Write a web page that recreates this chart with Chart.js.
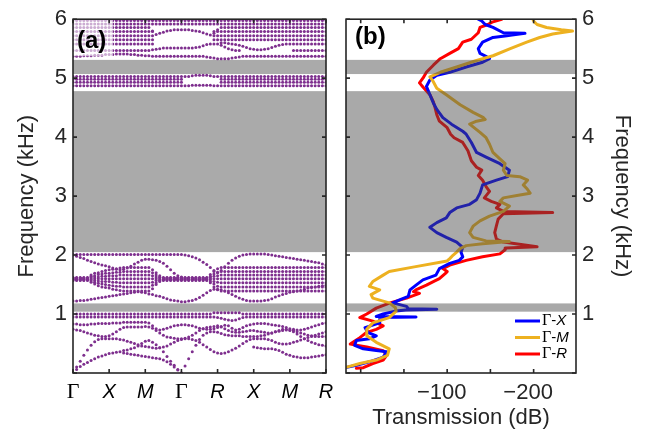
<!DOCTYPE html>
<html lang="en">
<head>
<meta charset="UTF-8">
<title>Band structure and transmission</title>
<script src="https://cdn.jsdelivr.net/npm/chart.js@4.4.0/dist/chart.umd.min.js"></script>
<style>
  html, body { margin: 0; padding: 0; background: #fff; }
  #wrap { position: relative; width: 647px; height: 437px; overflow: hidden; }
  #bandCanvas { position: absolute; left: 0; top: 0; }
  #transCanvas { position: absolute; left: 340px; top: 0; }
</style>
</head>
<body>
<div id="wrap">
  <canvas id="bandCanvas" width="340" height="437"></canvas>
  <canvas id="transCanvas" width="307" height="437"></canvas>
</div>
<script>
// ---------- panel (a): band structure ----------
const kGrid = [0,0.1,0.2,0.3,0.4,0.5,0.6,0.7,0.8,0.9,
  1,1.1,1.2,1.3,1.4,1.5,1.6,1.7,1.8,1.9,
  2,2.1,2.2,2.3,2.4,2.5,2.6,2.7,2.8,2.9,
  3,3.1,3.2,3.3,3.4,3.5,3.6,3.7,3.8,3.9,
  4,4.1,4.2,4.3,4.4,4.5,4.6,4.7,4.8,4.9,
  5,5.1,5.2,5.3,5.4,5.5,5.6,5.7,5.8,5.9,
  6,6.1,6.2,6.3,6.4,6.5,6.6,6.7,6.8,6.9,
  7];
const kTicks = [0,1,2,3,4,5,6,7];
const kLabels = ['Γ','X','M','Γ','R','X','M','R'];
const freqTicks = [0,1,2,3,4,5,6];
// band gaps (kHz)
const gapLow  = [1.04, 2.05, 5.07];
const gapHigh = [1.18, 4.78, 5.31];

// bands below 1 kHz
const bandD1 = [1.00,1.00,1.00,1.00,1.00,1.00,1.00,1.00,1.00,1.00,
  1.00,1.00,1.00,1.00,1.00,1.00,1.00,1.00,1.00,1.00,
  1.00,1.00,1.00,1.00,1.00,1.00,1.00,1.00,1.00,1.00,
  1.00,1.00,1.00,1.00,1.00,1.00,1.00,1.00,1.00,1.02,
  1.02,1.02,1.02,1.02,1.02,1.02,1.02,1.00,1.00,1.00,
  1.00,1.00,1.00,1.00,1.00,1.00,1.00,1.00,1.00,1.00,
  1.00,1.00,1.00,1.00,1.00,1.00,1.00,1.00,1.00,1.00,
  1.00];
const bandD2 = [0.95,0.95,0.95,0.95,0.95,0.95,0.95,0.95,0.95,0.95,
  0.95,0.95,0.95,0.95,0.95,0.95,0.95,0.95,0.95,0.95,
  0.95,0.95,0.95,0.95,0.95,0.95,0.95,0.95,0.95,0.95,
  0.95,0.95,0.95,0.95,0.95,0.95,0.95,0.95,0.95,0.95,
  0.94,0.93,0.91,0.90,0.89,0.90,0.92,0.94,0.95,0.95,
  0.95,0.95,0.95,0.95,0.95,0.95,0.95,0.95,0.95,0.95,
  0.95,0.95,0.95,0.95,0.95,0.95,0.95,0.95,0.95,0.95,
  0.95];
const bandD3 = [0.83,0.83,0.82,0.82,0.82,0.83,0.83,0.84,0.84,0.84,
  0.84,0.85,0.85,0.85,0.86,0.86,0.86,0.86,0.86,0.86,
  0.86,0.85,0.80,0.75,0.73,0.74,0.76,0.78,0.80,0.81,
  0.82,0.82,0.81,0.80,0.78,0.76,0.75,0.74,0.74,0.75,
  0.77,0.79,0.81,0.80,0.76,0.73,0.74,0.77,0.80,0.82,
  0.83,0.84,0.84,0.84,0.83,0.82,0.81,0.80,0.79,0.77,
  0.75,0.74,0.73,0.73,0.74,0.76,0.78,0.80,0.82,0.84,
  0.85];
const bandD4 = [0.74,0.73,0.72,0.70,0.68,0.66,0.64,0.63,0.62,0.62,
  0.63,0.66,0.70,0.74,0.77,0.78,0.78,0.78,0.78,0.78,
  0.79,0.78,0.76,0.72,0.68,0.64,0.61,0.60,0.59,0.58,
  0.58,0.59,0.61,0.64,0.68,0.72,0.75,0.77,0.78,0.79,
  0.80,0.78,0.75,0.72,0.70,0.69,0.69,0.70,0.71,0.72,
  0.72,0.71,0.70,0.69,0.68,0.68,0.70,0.72,0.74,0.74,
  0.72,0.70,0.66,0.62,0.58,0.55,0.52,0.50,0.48,0.47,
  0.46];
const bandD5 = [0.00,0.10,0.20,0.30,0.39,0.47,0.53,0.57,0.58,0.58,
  0.58,0.58,0.58,0.57,0.56,0.54,0.52,0.50,0.48,0.46,
  0.45,0.44,0.43,0.42,0.43,0.44,0.46,0.49,0.52,0.55,
  0.57,0.58,0.58,0.57,0.55,0.52,0.48,0.44,0.40,0.36,
  0.34,0.33,0.34,0.36,0.39,0.42,0.46,0.50,0.54,0.57,
  0.58,0.58,0.58,0.58,0.57,0.55,0.52,0.50,0.49,0.49,
  0.50,0.52,0.54,0.56,0.58,0.60,0.62,0.64,0.66,0.68,
  0.70];
const bandD6 = [0.00,0.06,0.11,0.15,0.18,0.21,0.24,0.27,0.29,0.31,
  0.33,0.34,0.35,0.36,0.38,0.39,0.41,0.43,0.46,0.50,
  0.54,0.55,0.52,0.48,0.43,0.36,0.28,0.20,0.13,0.06,
  0.00,0.12,0.24,0.36,0.47,0.57,0.64,0.68,0.70,0.70,
  0.69,0.67,0.65,0.64,0.63,0.63,0.63,0.62,0.62,0.62,
  0.62,0.62,0.63,0.64,0.66,0.68,0.70,0.71,0.72,0.73,
  0.73,0.72,0.70,0.68,0.66,0.64,0.63,0.62,0.62,0.62,
  0.62];
const bandD7 = [null,null,null,null,null,null,null,null,null,null,
  null,null,null,null,0.34,0.33,0.32,0.31,0.30,0.29,
  0.28,0.27,0.26,0.25,0.24,0.22,0.19,0.15,0.10,0.05,
  0.00,null,null,null,null,null,null,null,null,null,
  null,null,null,null,null,null,null,null,null,null,
  0.44,0.43,0.42,0.41,0.41,0.41,0.40,0.38,0.35,0.32,
  0.30,0.28,0.27,0.26,0.26,0.26,0.27,0.28,0.29,0.30,
  0.31];

// bands between 1.2 and 2 kHz
const bandE1 = [2.01,2.01,2.01,2.01,2.01,2.01,2.01,2.01,2.01,2.01,
  2.01,2.01,2.01,2.01,2.01,2.01,2.01,2.01,2.01,2.01,
  2.01,2.01,2.01,2.01,2.01,2.01,2.01,2.01,2.01,2.01,
  2.01,2.00,1.99,1.97,1.95,1.92,1.88,1.84,1.79,1.74,
  1.70,1.74,1.80,1.86,1.91,1.95,1.98,2.00,2.01,2.02,
  2.02,2.02,2.02,2.02,2.01,2.00,1.99,1.98,1.97,1.96,
  1.95,1.94,1.93,1.92,1.91,1.90,1.89,1.88,1.87,1.85,
  1.83];
const bandE2 = [2.00,1.98,1.96,1.94,1.91,1.89,1.87,1.85,1.83,1.82,
  1.80,1.78,1.76,1.75,1.76,1.78,1.81,1.85,1.88,1.91,
  1.93,1.93,1.92,1.91,1.89,1.86,1.81,1.75,1.69,1.65,
  1.63,null,null,null,null,null,null,null,null,null,
  null,null,null,null,null,null,null,null,null,null,
  null,null,null,null,null,null,null,null,null,null,
  null,null,null,null,null,null,null,null,null,null,
  null];
const bandK1 = [1.62,1.62,1.62,1.62,1.62,1.66,1.69,1.70,1.72,1.74,
  1.75,1.76,1.77,1.78,1.79,1.79,1.79,1.79,1.79,1.79,
  1.79,1.79,1.75,1.70,1.65,1.62,1.62,1.62,1.62,1.62,
  1.62,1.62,1.62,1.62,1.62,1.62,1.62,1.62,1.67,1.72,
  1.77,1.79,1.79,1.79,1.79,1.79,1.79,1.79,1.79,1.79,
  1.79,1.79,1.79,1.79,1.79,1.79,1.79,1.79,1.79,1.79,
  1.79,1.79,1.79,1.79,1.79,1.79,1.79,1.79,1.79,1.79,
  1.79];
const bandK2 = [1.61,1.61,1.61,1.61,1.61,1.64,1.65,1.67,1.68,1.69,
  1.69,1.70,1.71,1.71,1.72,1.72,1.72,1.72,1.72,1.72,
  1.72,1.72,1.70,1.66,1.63,1.61,1.61,1.61,1.61,1.61,
  1.61,1.61,1.61,1.61,1.61,1.61,1.61,1.61,1.64,1.68,
  1.71,1.72,1.72,1.72,1.72,1.72,1.72,1.72,1.72,1.72,
  1.72,1.72,1.72,1.72,1.72,1.72,1.72,1.72,1.72,1.72,
  1.72,1.72,1.72,1.72,1.72,1.72,1.72,1.72,1.72,1.72,
  1.72];
const bandK3 = [1.61,1.61,1.61,1.61,1.61,1.62,1.63,1.63,1.64,1.64,
  1.65,1.65,1.65,1.66,1.66,1.66,1.66,1.66,1.66,1.66,
  1.66,1.66,1.65,1.63,1.62,1.61,1.61,1.61,1.61,1.61,
  1.61,1.61,1.61,1.61,1.61,1.61,1.61,1.61,1.62,1.64,
  1.65,1.66,1.66,1.66,1.66,1.66,1.66,1.66,1.66,1.66,
  1.66,1.66,1.66,1.66,1.66,1.66,1.66,1.66,1.66,1.66,
  1.66,1.66,1.66,1.66,1.66,1.66,1.66,1.66,1.66,1.66,
  1.66];
const bandK4 = [1.60,1.60,1.60,1.60,1.60,1.60,1.60,1.60,1.60,1.60,
  1.60,1.60,1.60,1.60,1.60,1.60,1.60,1.60,1.60,1.60,
  1.60,1.60,1.60,1.60,1.60,1.60,1.60,1.60,1.60,1.60,
  1.60,1.60,1.60,1.60,1.60,1.60,1.60,1.60,1.60,1.60,
  1.60,1.60,1.60,1.60,1.60,1.60,1.60,1.60,1.60,1.60,
  1.60,1.60,1.60,1.60,1.60,1.60,1.60,1.60,1.60,1.60,
  1.60,1.60,1.60,1.60,1.60,1.60,1.60,1.60,1.60,1.60,
  1.60];
const bandK5 = [1.59,1.59,1.59,1.59,1.59,1.58,1.57,1.56,1.55,1.55,
  1.55,1.54,1.54,1.53,1.53,1.53,1.53,1.53,1.53,1.53,
  1.53,1.53,1.54,1.57,1.58,1.59,1.59,1.59,1.59,1.59,
  1.59,1.59,1.59,1.59,1.59,1.59,1.59,1.59,1.58,1.55,
  1.54,1.53,1.53,1.53,1.53,1.53,1.53,1.53,1.53,1.53,
  1.53,1.53,1.53,1.53,1.53,1.53,1.53,1.53,1.53,1.53,
  1.53,1.53,1.53,1.53,1.53,1.53,1.53,1.53,1.53,1.53,
  1.53];
const bandK6 = [1.58,1.58,1.58,1.58,1.58,1.56,1.54,1.52,1.51,1.50,
  1.49,1.48,1.47,1.47,1.46,1.46,1.46,1.46,1.46,1.46,
  1.46,1.46,1.49,1.53,1.57,1.58,1.58,1.58,1.58,1.58,
  1.58,1.58,1.58,1.58,1.58,1.58,1.58,1.58,1.55,1.51,
  1.47,1.46,1.46,1.46,1.46,1.46,1.46,1.46,1.46,1.46,
  1.46,1.46,1.46,1.46,1.46,1.46,1.46,1.46,1.46,1.46,
  1.46,1.46,1.46,1.46,1.46,1.46,1.46,1.46,1.46,1.46,
  1.46];
const bandK7 = [1.57,1.57,1.57,1.57,1.57,1.54,1.51,1.48,1.46,1.45,
  1.44,1.42,1.41,1.40,1.39,1.39,1.39,1.39,1.39,1.39,
  1.39,1.39,1.43,1.50,1.55,1.57,1.57,1.57,1.57,1.57,
  1.57,1.57,1.57,1.57,1.57,1.57,1.57,1.57,1.53,1.46,
  1.41,1.39,1.39,1.39,1.39,1.39,1.39,1.39,1.39,1.39,
  1.39,1.39,1.39,1.39,1.39,1.39,1.39,1.39,1.39,1.39,
  1.39,1.39,1.39,1.39,1.39,1.39,1.39,1.39,1.39,1.39,
  1.39];
const bandF1 = [1.22,1.22,1.23,1.23,1.24,1.25,1.26,1.27,1.28,1.29,
  1.30,1.31,1.32,1.33,1.34,1.35,1.36,1.37,1.38,1.37,
  1.36,1.34,1.33,1.31,1.30,1.28,1.26,1.24,1.23,1.22,
  1.21,1.21,1.22,1.23,1.25,1.28,1.32,1.36,1.40,1.42,
  1.42,1.41,1.39,1.36,1.33,1.30,1.27,1.25,1.23,1.22,
  1.22,1.22,1.22,1.23,1.24,1.26,1.29,1.31,1.33,1.35,
  1.37,1.38,1.39,1.40,1.42,1.44,1.45,1.46,1.47,1.48,
  1.49];

// bands between 4.8 and 5.1 kHz
const bandG1 = [5.03,5.03,5.03,5.03,5.03,5.03,5.03,5.03,5.03,5.03,
  5.03,5.03,5.03,5.03,5.03,5.03,5.03,5.03,5.03,5.03,
  5.03,5.03,5.03,5.03,5.03,5.03,5.03,5.03,5.03,5.03,
  5.03,5.03,5.03,5.04,5.05,5.05,5.05,5.05,5.04,5.03,
  5.03,5.03,5.03,5.03,5.03,5.03,5.03,5.03,5.03,5.03,
  5.03,5.03,5.03,5.03,5.03,5.03,5.03,5.03,5.03,5.03,
  5.03,5.03,5.03,5.03,5.03,5.03,5.03,5.03,5.03,5.03,
  5.03];
const bandG2 = [4.87,4.87,4.87,4.87,4.87,4.87,4.87,4.87,4.87,4.87,
  4.87,4.87,4.87,4.87,4.87,4.87,4.87,4.87,4.87,4.87,
  4.87,4.87,4.87,4.87,4.87,4.87,4.87,4.87,4.87,4.87,
  4.87,4.87,4.87,4.88,4.88,4.88,4.88,4.88,4.88,4.87,
  4.87,4.87,4.87,4.87,4.87,4.87,4.87,4.87,4.87,4.87,
  4.87,4.87,4.87,4.87,4.87,4.87,4.87,4.87,4.87,4.87,
  4.87,4.87,4.87,4.87,4.87,4.87,4.87,4.87,4.87,4.87,
  4.87];
const bandG3 = [4.98,4.98,4.98,4.98,4.98,4.98,4.98,4.98,4.98,4.98,
  4.98,4.98,4.98,4.98,4.98,4.98,4.98,4.98,4.98,4.98,
  4.98,4.98,4.98,4.98,4.98,4.98,4.98,4.98,4.98,4.98,
  4.98,null,null,null,null,null,null,null,null,null,
  null,4.98,4.98,4.98,4.98,4.98,4.98,4.98,4.98,4.98,
  4.98,4.98,4.98,4.98,4.98,4.98,4.98,4.98,4.98,4.98,
  4.98,4.98,4.98,4.98,4.98,4.98,4.98,4.98,4.98,4.98,
  4.98];
const bandG4 = [4.93,4.93,4.93,4.93,4.93,4.93,4.93,4.93,4.93,4.93,
  4.93,4.93,4.93,4.93,4.93,4.93,4.93,4.93,4.93,4.93,
  4.93,4.93,4.93,4.93,4.93,4.93,4.93,4.93,4.93,4.93,
  4.93,null,null,null,null,null,null,null,null,null,
  null,4.93,4.93,4.93,4.93,4.93,4.93,4.93,4.93,4.93,
  4.93,4.93,4.93,4.93,4.93,4.93,4.93,4.93,4.93,4.93,
  4.93,4.93,4.93,4.93,4.93,4.93,4.93,4.93,4.93,4.93,
  4.93];

// bands between 5.3 and 6 kHz
const bandH1 = [5.37,5.37,5.37,5.38,5.38,5.38,5.39,5.39,5.39,5.40,
  5.40,5.40,5.41,5.41,5.41,5.41,5.40,5.40,5.39,5.39,
  5.38,5.38,5.37,5.37,5.37,5.37,5.37,5.37,5.37,5.37,
  5.37,5.37,5.37,5.37,5.37,5.37,5.37,5.36,5.35,5.34,
  5.33,5.33,5.33,5.33,5.34,5.35,5.36,5.37,5.37,5.37,
  5.37,5.37,5.37,5.37,5.37,5.37,5.37,5.37,5.37,5.37,
  5.37,5.37,5.37,5.37,5.37,5.37,5.37,5.37,5.37,5.37,
  5.37];
const bandH2 = [5.47,5.47,5.47,5.47,5.47,5.47,5.47,5.47,5.47,5.47,
  5.47,5.47,5.47,5.47,5.47,5.47,5.47,5.47,5.47,5.47,
  5.47,5.47,5.48,5.49,5.50,5.51,5.51,5.51,5.51,5.51,
  5.51,5.51,5.51,5.51,5.52,5.53,5.55,5.57,5.58,5.58,
  5.58,5.56,5.53,5.50,5.48,5.47,5.47,null,null,null,
  null,null,null,null,null,null,null,null,null,null,
  null,5.47,5.47,5.47,5.47,5.47,5.47,5.47,5.47,5.47,
  5.47];
const bandU7 = [5.58,5.58,5.58,5.58,5.58,5.58,5.58,5.58,5.58,5.58,
  5.58,5.58,5.58,5.58,5.58,5.58,5.58,5.58,5.58,5.58,
  5.58,5.58,5.58,null,null,null,null,null,null,null,
  null,null,null,null,null,null,null,null,null,null,
  null,5.60,5.60,5.59,5.58,5.57,5.56,5.54,5.52,5.50,
  5.49,5.48,5.48,5.49,5.50,5.52,5.54,5.56,5.57,5.58,
  5.58,5.58,5.58,5.58,5.58,5.58,5.58,5.58,5.58,5.58,
  5.58];
const bandU6 = [5.65,5.65,5.65,5.65,5.65,5.65,5.65,5.65,5.65,5.65,
  5.65,5.65,5.65,5.65,5.65,5.65,5.65,5.65,5.65,5.65,
  5.65,5.65,5.65,null,null,null,null,null,null,null,
  null,null,null,null,null,null,null,null,null,5.65,
  5.65,5.65,5.65,5.65,5.65,5.65,5.65,5.65,5.65,5.65,
  5.65,5.65,5.65,5.65,5.65,5.65,5.65,5.65,5.65,5.65,
  5.65,5.65,5.65,5.65,5.65,5.65,5.65,5.65,5.65,5.65,
  5.65];
const bandU5 = [5.72,5.72,5.72,5.72,5.72,5.72,5.72,5.72,5.72,5.72,
  5.72,5.72,5.72,5.72,5.72,5.72,5.72,5.72,5.72,5.72,
  5.72,5.72,5.72,null,null,null,null,null,null,null,
  null,null,null,null,null,null,null,null,null,5.72,
  5.72,5.72,5.72,5.72,5.72,5.72,5.72,5.72,5.72,5.72,
  5.72,5.72,5.72,5.72,5.72,5.72,5.72,5.72,5.72,5.72,
  5.72,5.72,5.72,5.72,5.72,5.72,5.72,5.72,5.72,5.72,
  5.72];
const bandU4 = [5.79,5.79,5.79,5.79,5.79,5.79,5.79,5.79,5.79,5.79,
  5.79,5.79,5.79,5.79,5.79,5.79,5.79,5.79,5.79,5.79,
  5.79,5.79,5.79,null,null,null,null,null,null,null,
  null,null,null,null,null,null,null,null,null,5.79,
  5.79,5.79,5.79,5.79,5.79,5.79,5.79,5.79,5.79,5.79,
  5.79,5.79,5.79,5.79,5.79,5.79,5.79,5.79,5.79,5.79,
  5.79,5.79,5.79,5.79,5.79,5.79,5.79,5.79,5.79,5.79,
  5.79];
const bandU3 = [5.86,5.86,5.86,5.86,5.86,5.86,5.86,5.86,5.86,5.86,
  5.86,5.86,5.86,5.86,5.86,5.86,5.86,5.86,5.86,5.86,
  5.86,5.86,5.80,5.74,5.76,5.78,5.80,5.81,5.82,5.82,
  5.82,5.82,5.82,5.81,5.80,5.79,5.77,5.75,5.73,5.76,
  5.82,5.86,5.86,5.86,5.86,5.86,5.86,5.86,5.86,5.86,
  5.86,5.86,5.86,5.86,5.86,5.86,5.86,5.86,5.86,5.86,
  5.86,5.86,5.86,5.86,5.86,5.86,5.86,5.86,5.86,5.86,
  5.86];
const bandU2 = [5.92,5.92,5.92,5.92,5.92,5.92,5.92,5.92,5.92,5.92,
  5.92,5.92,5.92,5.92,5.92,5.92,5.92,5.92,5.92,5.92,
  5.92,5.92,5.92,5.92,5.92,5.92,5.92,5.92,5.92,5.92,
  5.92,5.92,5.92,5.92,5.92,5.92,5.92,5.92,5.92,5.92,
  5.92,5.92,5.92,5.92,5.92,5.92,5.92,5.92,5.92,5.92,
  5.92,5.92,5.92,5.92,5.92,5.92,5.92,5.92,5.92,5.92,
  5.92,5.92,5.92,5.92,5.92,5.92,5.92,5.92,5.92,5.92,
  5.92];
const bandU1 = [5.98,5.98,5.98,5.98,5.98,5.98,5.98,5.98,5.98,5.98,
  5.98,5.98,5.98,5.98,5.98,5.98,5.98,5.98,5.98,5.98,
  5.98,5.98,5.98,5.98,5.98,5.98,5.98,5.98,5.98,5.98,
  5.98,5.98,5.98,5.98,5.98,5.98,5.98,5.98,5.98,5.98,
  5.98,5.98,5.98,5.98,5.98,5.98,5.98,5.98,5.98,5.98,
  5.98,5.98,5.98,5.98,5.98,5.98,5.98,5.98,5.98,5.98,
  5.98,5.98,5.98,5.98,5.98,5.98,5.98,5.98,5.98,5.98,
  5.98];

const bands = [bandD1,bandD2,bandD3,bandD4,bandD5,bandD6,bandD7,
  bandE1,bandE2,bandK1,bandK2,bandK3,bandK4,bandK5,bandK6,bandK7,bandF1,
  bandG1,bandG2,bandG3,bandG4,
  bandH1,bandH2,bandU7,bandU6,bandU5,bandU4,bandU3,bandU2,bandU1];

// ---------- panel (b): transmission ----------
const seriesNames = ['Γ-X','Γ-M','Γ-R'];
const gxFreq = [6.00,5.97,5.91,5.86,5.77,5.76,5.73,5.72,5.69,5.61,5.50,5.42,5.36,5.33,5.27,5.19,5.10,5.05,4.97,4.86,
  4.72,4.58,4.47,4.33,4.22,4.10,4.05,3.91,3.74,3.66,3.55,3.44,3.33,3.27,3.19,3.05,2.94,2.86,2.80,2.72,
  2.63,2.55,2.47,2.38,2.30,2.22,2.13,2.05,1.97,1.91,1.86,1.77,1.66,1.58,1.49,1.41,1.30,1.24,1.19,1.13,
  1.09,1.08,1.07,1.05,1.00,0.96,0.95,0.94,0.85,0.77,0.69,0.63,0.58,0.55,0.47,0.41,0.38,0.36,0.27,0.19,
  0.13,0.09];
const gxTrans = [-136,-140,-144,-153,-165,-190,-175,-169,-153,-141,-136,-138,-146,-149,-141,-122,-103,-88,-80,-76,
  -80,-84,-88,-95,-105,-118,-122,-128,-134,-145,-161,-172,-170,-157,-141,-138,-134,-126,-111,-103,
  -99,-88,-80,-88,-99,-111,-118,-116,-118,-114,-103,-91,-87,-72,-64,-57,-55,-45,-37,-53,
  -55,-88,-52,-41,-26,-18,-64,-22,-22,-5,-8,-18,-10,5,7,-3,-18,-30,-26,-10,
  5,18];
const gmFreq = [6.00,5.95,5.91,5.86,5.82,5.80,5.78,5.75,5.69,5.61,5.50,5.38,5.30,5.19,5.10,5.02,4.94,4.83,4.72,4.55,
  4.42,4.33,4.30,4.27,4.22,4.08,3.99,3.88,3.74,3.63,3.55,3.44,3.35,3.33,3.27,3.19,3.13,3.05,3.02,2.97,
  2.91,2.83,2.74,2.66,2.58,2.49,2.38,2.30,2.24,2.23,2.19,2.16,2.11,2.05,2.00,1.94,1.90,1.80,1.72,1.66,
  1.55,1.47,1.41,1.33,1.27,1.19,1.11,1.05,0.94,0.85,0.74,0.63,0.52,0.41,0.30,0.22,0.16,0.10];
const gmTrans = [-199,-201,-204,-215,-232,-245,-235,-222,-207,-192,-173,-153,-134,-111,-92,-80,-84,-88,-99,-115,
  -130,-142,-144,-134,-126,-138,-145,-149,-153,-161,-167,-165,-169,-184,-193,-188,-192,-196,-184,-165,
  -161,-172,-165,-149,-138,-130,-126,-130,-145,-172,-141,-122,-115,-111,-107,-103,-100,-62,-33,-26,
  -14,-10,-22,-12,-14,-33,-40,-41,-33,-14,-7,-7,-18,-33,-31,-18,1,16];
const grFreq = [6.00,5.95,5.91,5.86,5.77,5.66,5.61,5.50,5.42,5.33,5.22,5.10,5.00,4.92,4.85,4.72,4.60,4.50,4.38,4.27,
  4.16,4.05,3.99,3.91,3.77,3.60,3.49,3.44,3.35,3.27,3.16,3.08,2.97,2.91,2.86,2.80,2.74,2.72,2.70,2.61,
  2.50,2.38,2.27,2.22,2.14,2.12,2.09,2.02,1.97,1.91,1.83,1.77,1.72,1.69,1.60,1.55,1.49,1.42,1.38,1.35,
  1.27,1.19,1.10,1.00,0.94,0.88,0.80,0.74,0.69,0.60,0.52,0.49,0.44,0.38,0.30,0.22,0.16,0.09,0.08];
const grTrans = [-163,-152,-147,-138,-136,-128,-118,-113,-103,-92,-84,-76,-72,-68,-72,-80,-84,-86,-88,-91,
  -100,-104,-108,-118,-124,-128,-134,-140,-136,-141,-145,-149,-143,-151,-161,-157,-165,-222,-165,-159,
  -157,-155,-157,-165,-204,-168,-167,-161,-141,-122,-103,-95,-100,-98,-91,-84,-76,-65,-61,-68,
  -53,-34,-18,-7,1,-14,-26,-18,-7,1,9,12,-7,-26,-30,-26,-14,-3,5];
const transTicks = [-200,-150,-100,-50,0];
const transLabeled = [-100,-200];

// ---------- drawing ----------
const SANS = "'Liberation Sans', Arial, Helvetica, sans-serif";
const SERIF = "'Liberation Serif', 'DejaVu Serif', serif";
const INK = '#262626';
const PURPLE = '#7e2f8e';
const colGX = '#0000ff', colGM = '#edb120', colGR = '#ff0000';
Chart.defaults.font.family = SANS;
Chart.defaults.color = INK;

function drawGaps(chart, color) {
  const {ctx, chartArea: a, scales: {y}} = chart;
  ctx.save();
  ctx.fillStyle = color;
  gapLow.forEach((lo, i) => {
    const top = y.getPixelForValue(gapHigh[i]);
    const bot = y.getPixelForValue(lo);
    ctx.fillRect(a.left, top, a.right - a.left, bot - top);
  });
  ctx.restore();
}

// Matlab-like box with inward ticks on all four sides
function drawFrame(chart, xt, yt) {
  const {ctx, chartArea: a, scales: {x, y}} = chart;
  ctx.save();
  ctx.strokeStyle = INK;
  ctx.lineWidth = 1.6;
  ctx.beginPath();
  xt.forEach(v => {
    const px = x.getPixelForValue(v);
    ctx.moveTo(px, a.bottom); ctx.lineTo(px, a.bottom - 4);
    ctx.moveTo(px, a.top); ctx.lineTo(px, a.top + 4);
  });
  yt.forEach(v => {
    const py = y.getPixelForValue(v);
    ctx.moveTo(a.left, py); ctx.lineTo(a.left + 4, py);
    ctx.moveTo(a.right, py); ctx.lineTo(a.right - 4, py);
  });
  ctx.stroke();
  ctx.strokeRect(a.left, a.top, a.right - a.left, a.bottom - a.top);
  ctx.restore();
}

function freqAxis(position, width, titlePad) {
  return {
    type: 'linear', position: position, min: 0, max: 6,
    afterBuildTicks: s => { s.ticks = freqTicks.map(v => ({value: v})); },
    afterFit: s => { s.width = width; },
    grid: {display: false, drawTicks: false},
    border: {display: false},
    ticks: {font: {size: 22}, padding: 6, color: INK, callback: v => v === 0 ? '' : String(v)},
    title: {display: true, text: 'Frequency (kHz)', font: {size: 22}, color: INK, padding: {top: titlePad, bottom: 0}}
  };
}

const bandPlugin = {
  id: 'bandDecor',
  beforeDatasetsDraw(chart) { drawGaps(chart, '#aaaaaa'); },
  afterDatasetsDraw(chart) {
    const {ctx, chartArea: a} = chart;
    ctx.save();
    ctx.fillStyle = 'rgba(255,255,255,0.6)';
    ctx.fillRect(a.left, a.top, 40, 37);
    ctx.fillStyle = '#000';
    ctx.font = 'bold 24px ' + SANS;
    ctx.textAlign = 'left';
    ctx.textBaseline = 'middle';
    ctx.fillText('(a)', a.left + 4, a.top + 22);
    ctx.restore();
  },
  afterDraw(chart) {
    drawFrame(chart, kTicks, freqTicks);
    const {ctx, chartArea: a, scales: {x}} = chart;
    ctx.save();
    ctx.fillStyle = '#000';
    ctx.textAlign = 'center';
    ctx.textBaseline = 'middle';
    kTicks.forEach((v, i) => {
      const lab = kLabels[i];
      ctx.font = lab === 'Γ' ? '22px ' + SERIF : 'italic 20px ' + SANS;
      ctx.fillText(lab, x.getPixelForValue(v), a.bottom + 19);
    });
    ctx.restore();
  }
};

new Chart(document.getElementById('bandCanvas'), {
  type: 'scatter',
  data: {
    datasets: bands.map(b => ({
      data: kGrid.map((k, i) => b[i] === null ? null : {x: k, y: b[i]}).filter(p => p),
      pointRadius: 1.5,
      pointBorderWidth: 0,
      pointBackgroundColor: PURPLE,
      showLine: false
    }))
  },
  options: {
    responsive: false, animation: false, devicePixelRatio: 1,
    layout: {padding: {left: 0, right: 14, top: 13, bottom: 0}},
    plugins: {legend: {display: false}, tooltip: {enabled: false}},
    scales: {
      x: {
        type: 'linear', min: 0, max: 7,
        afterBuildTicks: s => { s.ticks = kTicks.map(v => ({value: v})); },
        afterFit: s => { s.height = 64; },
        grid: {display: false, drawTicks: false},
        border: {display: false},
        ticks: {display: false}
      },
      y: freqAxis('left', 73, 14)
    }
  },
  plugins: [bandPlugin]
});

const transPlugin = {
  id: 'transDecor',
  afterDatasetsDraw(chart) { drawGaps(chart, 'rgba(73,73,73,0.47)'); },
  afterDraw(chart) {
    drawFrame(chart, transTicks, freqTicks);
    const {ctx, chartArea: a} = chart;
    ctx.save();
    ctx.fillStyle = '#000';
    ctx.font = 'bold 24px ' + SANS;
    ctx.textAlign = 'left';
    ctx.textBaseline = 'middle';
    ctx.fillText('(b)', a.left + 9, a.top + 18);
    // legend
    const cols = [colGX, colGM, colGR];
    seriesNames.forEach((name, r) => {
      const yy = a.bottom - 52 + r * 16.5;
      ctx.strokeStyle = cols[r];
      ctx.lineWidth = 3;
      ctx.beginPath();
      ctx.moveTo(a.right - 61, yy);
      ctx.lineTo(a.right - 36, yy);
      ctx.stroke();
      const parts = name.split('-');
      let xx = a.right - 34;
      ctx.fillStyle = '#000';
      ctx.font = '16px ' + SERIF;
      ctx.fillText(parts[0], xx, yy);
      xx += ctx.measureText(parts[0]).width;
      ctx.font = '15px ' + SANS;
      ctx.fillText('-', xx, yy);
      xx += ctx.measureText('-').width;
      ctx.font = 'italic 15px ' + SANS;
      ctx.fillText(parts[1], xx, yy);
    });
    ctx.restore();
  }
};

function lineSet(freq, trans, color) {
  return {
    data: freq.map((f, i) => ({x: trans[i], y: f})),
    showLine: true, borderColor: color, borderWidth: 3,
    pointRadius: 0, tension: 0, borderJoinStyle: 'round', borderCapStyle: 'round'
  };
}

new Chart(document.getElementById('transCanvas'), {
  type: 'scatter',
  data: {
    datasets: [
      lineSet(gmFreq, gmTrans, colGM),
      lineSet(gxFreq, gxTrans, colGX),
      lineSet(grFreq, grTrans, colGR)
    ]
  },
  options: {
    responsive: false, animation: false, devicePixelRatio: 1,
    layout: {padding: {left: 6, right: 0, top: 13, bottom: 0}},
    plugins: {legend: {display: false}, tooltip: {enabled: false}},
    scales: {
      x: {
        type: 'linear', min: -249, max: 17, reverse: true,
        afterBuildTicks: s => { s.ticks = transTicks.map(v => ({value: v})); },
        afterFit: s => { s.height = 64; },
        grid: {display: false, drawTicks: false},
        border: {display: false},
        ticks: {font: {size: 22}, padding: 7, color: INK, maxRotation: 0, autoSkip: false,
          callback: v => transLabeled.includes(v) ? '\u2212' + Math.abs(v) + '\u2002' : ''},
        title: {display: true, text: 'Transmission (dB)', font: {size: 22}, color: INK, padding: {top: 0, bottom: 6}}
      },
      y: freqAxis('right', 71, 12)
    }
  },
  plugins: [transPlugin]
});
</script>
</body>
</html>
